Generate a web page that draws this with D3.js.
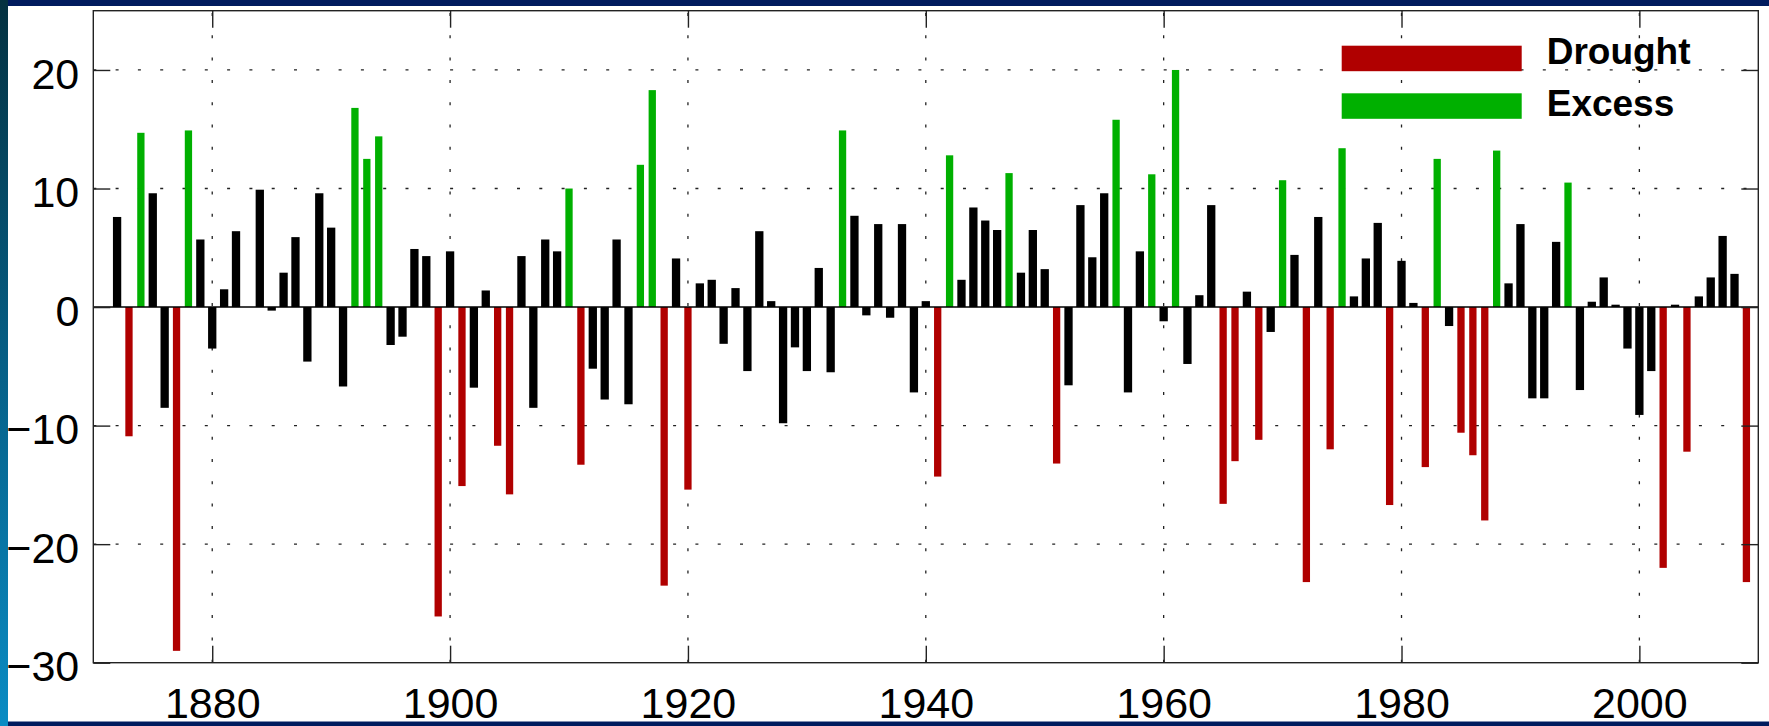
<!DOCTYPE html>
<html>
<head>
<meta charset="utf-8">
<script src="https://cdn.jsdelivr.net/npm/d3@7"></script>
<style>
  html, body { margin: 0; padding: 0; background: #001a5c; }
  svg { display: block; }
</style>
</head>
<body>
<svg id="chart" width="1769" height="726"></svg>
<script>
// ---- data (all-India summer monsoon rainfall anomaly, %) ----
const firstYear = 1871;
const values = [
  // 1871-1880
  0, 7.6, -10.9, 14.7, 9.6, -8.5, -29.0, 14.9, 5.7, -3.5,
  // 1881-1890
  1.5, 6.4, 0, 9.9, -0.3, 2.9, 5.9, -4.6, 9.6, 6.7,
  // 1891-1900
  -6.7, 16.8, 12.5, 14.4, -3.2, -2.5, 4.9, 4.3, -26.1, 4.7,
  // 1901-1910
  -15.1, -6.8, 1.4, -11.7, -15.8, 4.3, -8.5, 5.7, 4.7, 10.0,
  // 1911-1920
  -13.3, -5.2, -7.8, 5.7, -8.2, 12.0, 18.3, -23.5, 4.1, -15.4,
  // 1921-1930
  2.0, 2.3, -3.1, 1.6, -5.4, 6.4, 0.5, -9.8, -3.4, -5.4,
  // 1931-1940
  3.3, -5.5, 14.9, 7.7, -0.7, 7.0, -0.9, 7.0, -7.2, 0.5,
  // 1941-1950
  -14.3, 12.8, 2.3, 8.4, 7.3, 6.5, 11.3, 2.9, 6.5, 3.2,
  // 1951-1960
  -13.2, -6.6, 8.6, 4.2, 9.6, 15.8, -7.2, 4.7, 11.2, -1.2,
  // 1961-1970
  20.0, -4.8, 1.0, 8.6, -16.6, -13.0, 1.3, -11.2, -2.1, 10.7,
  // 1971-1980
  4.4, -23.2, 7.6, -12.0, 13.4, 0.9, 4.1, 7.1, -16.7, 3.9,
  // 1981-1990
  0.35, -13.5, 12.5, -1.6, -10.6, -12.5, -18.0, 13.2, 2.0, 7.0,
  // 1991-2000
  -7.7, -7.7, 5.5, 10.5, -7.0, 0.45, 2.5, 0.2, -3.5, -9.1,
  // 2001-2009
  -5.4, -22.0, 0.2, -12.2, 0.9, 2.5, 6.0, 2.8, -23.2
];
const years = values.map((v, i) => firstYear + i);
const droughtYears = [1873, 1877, 1899, 1901, 1904, 1905, 1911, 1918, 1920, 1941, 1951,
  1965, 1966, 1968, 1972, 1974, 1979, 1982, 1985, 1986, 1987, 2002, 2004, 2009];
const excessYears = [1874, 1878, 1892, 1893, 1894, 1910, 1916, 1917, 1933, 1942, 1947,
  1956, 1959, 1961, 1970, 1975, 1983, 1988, 1994];
const xTicks = [1880, 1900, 1920, 1940, 1960, 1980, 2000];
const yTicks = [-30, -20, -10, 0, 10, 20];
const legendLabels = ["Drought", "Excess"];

// ---- layout ----
const W = 1769, H = 726;
const plot = { left: 93.3, right: 1758.3, top: 10.7, bottom: 662.7 };
const colors = { drought: "#b00000", excess: "#00b000", normal: "#000000" };
const font = "'Liberation Sans', Arial, sans-serif";

const svg = d3.select("#chart");

// frame
const defs = svg.append("defs");
const lg = defs.append("linearGradient").attr("id", "leftGrad")
  .attr("x1", 0).attr("y1", 0).attr("x2", 0).attr("y2", 1);
lg.append("stop").attr("offset", "0%").attr("stop-color", "#043140");
lg.append("stop").attr("offset", "50%").attr("stop-color", "#065f86");
lg.append("stop").attr("offset", "100%").attr("stop-color", "#0a8cc4");
svg.append("rect").attr("width", W).attr("height", H).attr("fill", "#001b5e");
svg.append("rect").attr("x", 8).attr("y", 6).attr("width", W - 8).attr("height", 715.5).attr("fill", "#ffffff");
svg.append("rect").attr("x", 0).attr("y", 0).attr("width", 8).attr("height", H).attr("fill", "url(#leftGrad)");

// scales
const x = d3.scaleLinear().domain([1870, 2010]).range([plot.left, plot.right]);
const y = d3.scaleLinear().domain([-30, 25]).range([plot.bottom, plot.top]);

// grid
const gridStyle = g => g.attr("stroke", "#222").attr("stroke-width", 1.3)
  .attr("stroke-dasharray", "3,19.3").attr("fill", "none");
svg.append("g").selectAll("line").data(xTicks).join("line")
  .attr("x1", d => x(d)).attr("x2", d => x(d))
  .attr("y1", plot.bottom).attr("y2", plot.top)
  .call(gridStyle);
svg.append("g").selectAll("line").data(yTicks.filter(d => d !== 0 && d !== -30)).join("line")
  .attr("x1", plot.left).attr("x2", plot.right)
  .attr("y1", d => y(d)).attr("y2", d => y(d))
  .call(gridStyle);

// bars
const data = years.map((yr, i) => ({ year: yr, value: values[i],
  type: droughtYears.includes(yr) ? "drought" : (excessYears.includes(yr) ? "excess" : "normal") }));
svg.append("g").selectAll("rect").data(data.filter(d => d.value !== 0)).join("rect")
  .attr("x", d => x(d.year) - (d.type === "normal" ? 4.15 : 3.65))
  .attr("width", d => d.type === "normal" ? 8.3 : 7.3)
  .attr("y", d => y(Math.max(0, d.value)))
  .attr("height", d => Math.abs(y(d.value) - y(0)))
  .attr("fill", d => colors[d.type]);

// zero line
svg.append("line")
  .attr("x1", plot.left).attr("x2", plot.right)
  .attr("y1", y(0)).attr("y2", y(0))
  .attr("stroke", "#000").attr("stroke-width", 1.6);

// axes (ticks pointing inward)
const tickLen = 17;
const styleAxis = g => {
  g.select(".domain").remove();
  g.selectAll(".tick line").attr("stroke", "#222").attr("stroke-width", 1.4);
  g.selectAll(".tick text").attr("fill", "#000").style("font-family", font).style("font-size", "43px");
};
svg.append("g").attr("transform", `translate(${plot.left},0)`)
  .call(d3.axisLeft(y).tickValues(yTicks).tickSize(-tickLen).tickPadding(14))
  .call(styleAxis)
  .call(g => g.selectAll(".tick text").attr("dy", "0.42em"));
svg.append("g").attr("transform", `translate(${plot.right},0)`)
  .call(d3.axisRight(y).tickValues(yTicks).tickSize(-tickLen).tickFormat(""))
  .call(styleAxis);
svg.append("g").attr("transform", `translate(0,${plot.bottom})`)
  .call(d3.axisBottom(x).tickValues(xTicks).tickSize(-tickLen).tickPadding(25).tickFormat(d3.format("d")))
  .call(styleAxis);
svg.append("g").attr("transform", `translate(0,${plot.top})`)
  .call(d3.axisTop(x).tickValues(xTicks).tickSize(-tickLen).tickFormat(""))
  .call(styleAxis);

// box
svg.append("rect")
  .attr("x", plot.left).attr("y", plot.top)
  .attr("width", plot.right - plot.left).attr("height", plot.bottom - plot.top)
  .attr("fill", "none").attr("stroke", "#222").attr("stroke-width", 1.4);

// legend
const legend = svg.append("g").attr("transform", "translate(1341.7,45.7)");
const legendColors = [colors.drought, colors.excess];
legendLabels.forEach((lab, i) => {
  legend.append("rect").attr("x", 0).attr("y", i * 47.6)
    .attr("width", 180).attr("height", 25.5).attr("fill", legendColors[i]);
  legend.append("text").attr("x", 205).attr("y", 18.6 + i * 51.7)
    .attr("fill", "#000").style("font-family", font).style("font-size", "37px")
    .style("font-weight", "bold").text(lab);
});
</script>
</body>
</html>
